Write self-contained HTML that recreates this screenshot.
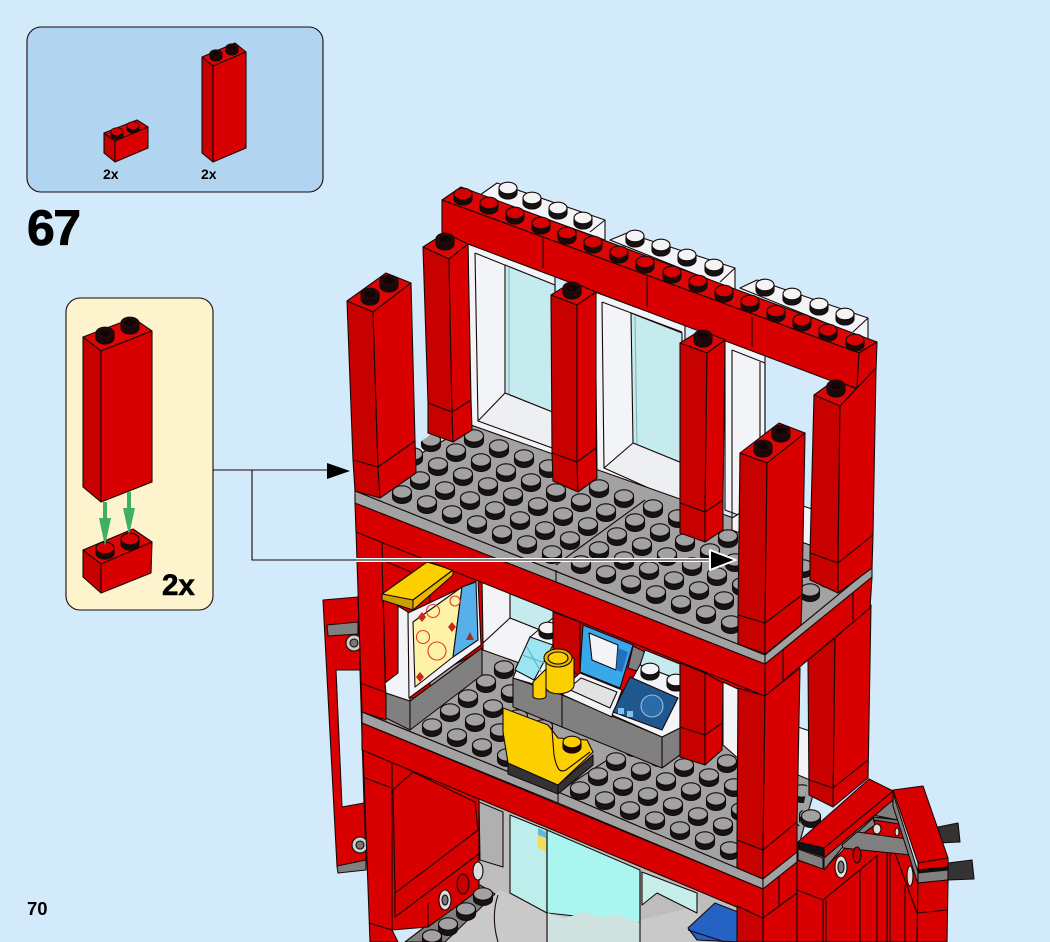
<!DOCTYPE html>
<html><head><meta charset="utf-8"><style>
html,body{margin:0;padding:0;background:#d3eafb}
svg{display:block;filter:blur(.35px)}
polygon,path,rect,ellipse,circle,line,polyline{stroke:#180808;stroke-width:1.1;stroke-linejoin:round}
.r{fill:#d80000}.d{fill:#c70000}.t{fill:#dc0606}
.w{fill:#f2f4f7}.g{fill:#a2a2a2}.k{fill:#808080}.y{fill:#fcd000}
.n{stroke:none}
text{font-family:"Liberation Sans",sans-serif;font-weight:700;fill:#000}
</style></head><body>
<svg width="1050" height="942" viewBox="0 0 1050 942" xmlns="http://www.w3.org/2000/svg">
<defs>
<g id="sg"><path d="M-9.5-2v5a9.5 6.5 0 0 0 19 0v-5z" fill="#141414"/><ellipse cx="0" cy="-2" rx="9.5" ry="6.2" fill="#a2a2a2" stroke-width="1"/></g>
<g id="sr"><path d="M-9-2v5a9 6 0 0 0 18 0v-5z" fill="#1c0808"/><ellipse cx="0" cy="-2" rx="9" ry="5.8" fill="#d80000" stroke-width="1"/></g>
<g id="sw"><path d="M-9-2v5a9 6 0 0 0 18 0v-5z" fill="#141414"/><ellipse cx="0" cy="-2" rx="9" ry="5.8" fill="#f4f4f4" stroke-width="1"/></g>
<g id="sb"><path d="M-9-2v5a9 6 0 0 0 18 0v-5z" fill="#1c0808"/><ellipse cx="0" cy="-2" rx="9" ry="5.8" fill="#2a0a0a" stroke="#7a0000" stroke-width="1"/><ellipse cx="0" cy="-2" rx="5.5" ry="3.4" fill="#120404" stroke="#300"/></g>
<g id="r4"><use href="#sg"/><use href="#sg" x="25" y="10"/><use href="#sg" x="50" y="20"/><use href="#sg" x="75" y="30"/></g>
<g id="r8"><use href="#r4"/><use href="#r4" x="100" y="40"/></g>
<clipPath id="c1"><polygon points="355,491 470,405 872,560 765,655"/></clipPath>
<clipPath id="c2"><polygon points="362,712 482,640 810,770 800,825 763,879"/></clipPath>
</defs>

<rect class="n" width="1050" height="942" fill="#d3eafb"/>

<!-- parts box -->
<rect x="27" y="27" width="296" height="165" rx="14" fill="#b1d5f1" stroke="#34495c" stroke-width="1.5"/>
<polygon class="t" points="104,133 137,120 148,127 115,141"/>
<polygon class="d" points="104,133 115,141 115,162 104,153"/>
<polygon class="r" points="115,141 148,127 148,148 115,162"/>
<g transform="translate(117,133) scale(.68)"><use href="#sr"/></g>
<g transform="translate(133,127) scale(.68)"><use href="#sr"/></g>
<polygon class="t" points="202,57 235,43 246,52 213,66"/>
<polygon class="d" points="202,57 213,66 213,162 202,153"/>
<polygon class="r" points="213,66 246,52 246,148 213,162"/>
<g transform="translate(216,55) scale(.68)"><use href="#sb"/></g>
<g transform="translate(232,49) scale(.68)"><use href="#sb"/></g>
<text x="103" y="179" font-size="14">2x</text>
<text x="201" y="179" font-size="14">2x</text>
<text x="27" y="245" font-size="50" letter-spacing="-1.5" stroke="#000" stroke-width=".8">67</text>
<text x="27" y="915" font-size="18.5">70</text>

<!-- callout -->
<rect x="66" y="298" width="147" height="312" rx="14" fill="#fdf3cd" stroke="#3c3c3c" stroke-width="1.5"/>
<polygon class="t" points="83,337 133,318 152,331 101,351"/>
<polygon class="d" points="83,337 101,351 101,502 83,487"/>
<polygon class="r" points="101,351 152,331 152,482 101,502"/>
<use href="#sb" x="105" y="335"/><use href="#sb" x="130" y="325"/>
<polygon class="t" points="83,550 133,529 152,542 101,564"/>
<polygon class="d" points="83,550 101,564 101,593 83,577"/>
<polygon class="r" points="101,564 152,542 151,573 101,593"/>
<use href="#sr" x="105" y="550"/><use href="#sr" x="130" y="541"/>
<polygon class="n" fill="#3eaf63" points="103,502 107,502 107,518 111,518 105,546 99,518 103,518"/>
<polygon class="n" fill="#3eaf63" points="127,492 131,492 131,508 135,508 129,535 123,508 127,508"/>
<text x="162" y="595" font-size="29.5" stroke="#000" stroke-width=".6">2x</text>

<!-- left door -->
<polygon class="r" points="323,600 358,597 366,860 337,866"/>
<polygon class="n" fill="#d3eafb" points="336,670 360,670 364,803 342,807"/>
<polygon fill="none" points="336,670 360,670 364,803 342,807"/>
<polygon class="k" points="327,625 358,622 358,634 328,636"/>
<polygon class="k" points="337,866 366,860 366,870 338,873"/>
<circle cx="354" cy="643" r="8" fill="#ccc"/><circle cx="354" cy="643" r="4" fill="#777"/>
<circle cx="360" cy="845" r="8" fill="#ccc"/><circle cx="360" cy="845" r="4" fill="#777"/>

<!-- ground floor interior -->
<polygon class="n" fill="#bdbdbd" points="478,795 763,905 763,942 405,942 480,878"/>
<polygon fill="#b0b0b0" points="479,802 503,812 503,867 480,860"/>
<polygon class="n" fill="#c9c9c9" points="500,890 545,910 640,920 700,905 700,942 440,942"/>
<path fill="none" d="M498 895c-5 15-5 30 0 47"/>
<polygon fill="#bdeeec" points="510,815 547,830 547,913 510,893"/>
<polygon fill="#aaf5ef" points="547,830 640,870 640,923 547,913"/>
<polygon class="n" fill="#cfe2e0" points="548,913 565,918 585,912 600,918 620,915 640,923 640,942 548,942"/>
<line x1="547" y1="830" x2="547" y2="942"/><line x1="640" y1="870" x2="640" y2="942"/>
<polygon class="n" fill="#f3dc5a" points="538,835 546,838 546,852 538,848"/>
<polygon class="n" fill="#5cb8e0" points="538,828 546,832 546,838 538,835"/>
<polygon fill="#c7efe9" points="642,872 697,893 697,913 657,893 642,905"/>
<polygon fill="#2462c4" points="715,903 738,912 738,942 697,940 688,928"/>
<line x1="688" y1="930" x2="725" y2="942"/>
<!-- ground red wall -->
<polygon class="k" points="405,942 480,885 495,894 445,942"/>
<polygon class="r" points="392,760 479,796 479,890 428,927 392,930"/>
<polygon class="r" points="393,790 413,772 475,802 478,830 395,893"/>
<polyline fill="none" points="395,893 395,917 480,853"/>
<line x1="428" y1="903" x2="428" y2="927"/>
<use href="#sg" x="483" y="896"/><use href="#sg" x="466" y="911"/><use href="#sg" x="448" y="926"/><use href="#sg" x="432" y="938"/>
<ellipse cx="445" cy="900" rx="6" ry="10" fill="#ddd"/><ellipse cx="445" cy="900" rx="3" ry="5" fill="#777"/>
<ellipse cx="463" cy="884" rx="6" ry="10" fill="#c40000"/>
<ellipse cx="478" cy="871" rx="5" ry="9" fill="#ddd"/>
<polygon class="r" points="362,723 392,735 392,930 398,942 370,942"/>
<polyline fill="none" points="365,778 392,788"/>
<polyline fill="none" points="369,923 392,930"/>

<!-- middle floor back -->
<polygon class="r" points="356,530 765,696 765,700 482,700 382,700"/>
<polygon class="w" points="482,578 510,590 510,620 483,643"/>
<polygon fill="#c5ebee" points="510,592 555,612 555,636 510,618"/>
<polygon class="w" points="483,643 510,618 555,636 520,672 483,652"/>
<!-- floor 1 plate -->
<polygon class="g" points="362,712 483,650 820,770 797,852 763,879 558,792"/>
<line x1="558" y1="792" x2="615" y2="755"/>
<g clip-path="url(#c2)">
<use href="#r4" x="504" y="669"/><use href="#r4" x="486" y="683"/><use href="#r4" x="468" y="698"/><use href="#r4" x="450" y="712"/><use href="#r4" x="432" y="727"/>
<use href="#r8" x="652" y="733"/><use href="#r8" x="634" y="747"/><use href="#r8" x="616" y="761"/><use href="#r8" x="598" y="776"/><use href="#r8" x="580" y="790"/>
</g>
<polygon class="g" points="362,712 558,792 763,879 763,889 558,803 362,723"/>
<line x1="558" y1="792" x2="558" y2="803"/>

<!-- left post & poster -->
<polygon class="r" points="356,530 382,540 386,720 362,712"/>
<line x1="360" y1="683" x2="385" y2="692"/>
<polygon class="r" points="382,560 430,580 430,700 386,695"/>
<polygon class="k" points="386,693 410,701 410,730 386,718"/>
<polygon class="k" points="410,701 482,648 482,675 410,730"/>
<polygon class="w" points="385,683 398,673 398,606 408,612 410,701 386,693"/>
<polygon class="w" points="408,613 478,580 481,645 409,698"/>
<polygon fill="#fdf2a6" points="413,622 462,587 453,657 415,687"/>
<polygon fill="#56b0ea" points="462,587 476,582 478,640 453,657"/>
<g fill="none">
<circle cx="433" cy="611" r="6.5" style="stroke:#e23a2a"/>
<circle cx="423" cy="637" r="6.5" style="stroke:#e23a2a"/>
<circle cx="437" cy="651" r="9" style="stroke:#e23a2a"/>
<circle cx="455" cy="601" r="5" style="stroke:#e23a2a"/>
</g>
<polygon class="n" fill="#c82a1a" points="422,612 426,617 422,622 418,617"/>
<polygon class="n" fill="#c82a1a" points="452,622 456,627 452,632 448,627"/>
<polygon class="n" fill="#c82a1a" points="420,672 424,677 420,682 416,677"/>
<polygon class="n" fill="#a03030" points="470,632 474,640 466,640"/>
<polygon class="y" points="382,594 427,562 453,570 413,600"/>
<polygon fill="#c9a000" points="382,594 413,600 413,610 382,600"/>
<polygon fill="#e8b800" points="413,600 453,570 453,575 413,610"/>

<!-- counter -->
<polygon class="k" points="513,678 562,695 662,737 680,728 680,755 662,768 562,727 513,707"/>
<line x1="562" y1="695" x2="562" y2="727"/><line x1="662" y1="737" x2="662" y2="768"/>
<polygon class="w" points="513,678 530,637 553,618 553,690"/>
<use href="#sw" x="548" y="630"/>
<polygon fill="#9be4f0" points="515,670 530,637 553,645 534,680"/>
<polyline fill="none" style="stroke:#4fb8cc" points="522,655 545,663"/><polyline fill="none" style="stroke:#4fb8cc" points="527,647 541,672"/>
<polygon class="d" points="553,612 580,622 580,675 553,665"/>
<!-- laptop -->
<polygon class="k" points="633,646 645,652 640,672 628,668"/>
<polygon fill="#c5ebee" points="645,650 680,664 680,680 640,665"/>
<polygon fill="#38a8e8" points="583,625 633,645 620,688 580,672"/>
<polygon class="w" points="589,633 618,645 616,670 592,660"/>
<polygon fill="#2270c0" class="n" points="618,648 628,652 622,672 616,670"/>
<polygon class="w" points="563,688 580,673 622,690 612,717 563,695"/>
<polygon fill="#e2e2e2" points="568,689 581,678 617,692 610,708"/>
<!-- radar -->
<polygon class="w" points="640,665 680,680 680,728 662,737 612,715"/>
<use href="#sw" x="650" y="671"/><use href="#sw" x="676" y="682"/>
<polygon fill="#1f578f" points="613,712 630,677 678,698 662,730"/>
<circle cx="652" cy="706" r="11" fill="#2a6ca8" style="stroke:#9bd"/>
<rect x="618" y="708" width="6" height="6" fill="#7cc4ee" class="n"/><rect x="627" y="711" width="6" height="6" fill="#7cc4ee" class="n"/>
<!-- mug -->
<path class="y" d="M533 696v-14l14-14 7 8-8 8v12c0 4-13 4-13 0z"/>
<path class="y" d="M546 658v30c2 8 25 8 28-2v-28z"/>
<ellipse cx="558" cy="658" rx="14" ry="9" fill="#e8b800"/><ellipse cx="558" cy="658" rx="10" ry="6" fill="#fcd000"/>
<!-- chair -->
<polygon fill="#333" points="508,763 558,785 558,794 508,774"/>
<polygon fill="#333" points="558,785 593,755 593,765 558,794"/>
<polygon class="y" points="503,708 548,725 558,738 587,740 593,752 558,785 508,763 503,732"/>
<path fill="none" d="M552 730l2 25c3 15 6 18 12 15l24-18"/>
<path d="M563 742v5a9 6 0 0 0 18 0v-5z" fill="#1c0808"/>
<ellipse cx="572" cy="742" rx="9" ry="5.8" fill="#fcd000"/>

<!-- column I -->
<polygon class="w" points="723,682 740,690 740,760 723,745"/>
<polygon class="d" points="680,663 705,673 705,765 680,757"/>
<polygon class="r" points="705,673 723,683 722,750 705,765"/>
<polyline fill="none" points="680,727 705,735 722,723"/>
<!-- column H area -->
<polygon class="w" points="798,727 810,731 810,780 798,775"/>
<use href="#sg" x="811" y="818"/>
<polygon class="d" points="808,660 835,638 833,807 809,795"/>
<polygon class="r" points="835,638 871,605 868,778 833,807"/>
<polyline fill="none" points="809,780 833,788 868,760"/>

<!-- floor 2 beam -->
<polygon class="r" points="355,503 765,664 765,696 356,532"/>
<polygon class="r" points="765,664 872,577 870,608 765,696"/>
<line x1="783" y1="650" x2="783" y2="680"/><line x1="853" y1="593" x2="853" y2="620"/>
<!-- column G -->
<polygon class="d" points="738,688 765,696 763,850 737,840"/>
<polygon class="r" points="765,696 800,668 797,822 763,850"/>
<polygon class="d" points="737,840 763,850 763,879 737,868"/>
<polygon class="r" points="763,850 797,822 797,852 763,879"/>
<!-- floor 1 beam -->
<polygon class="r" points="362,723 763,889 763,918 362,750"/>
<polygon class="g" points="763,879 797,852 797,862 763,889"/>
<polygon class="r" points="763,889 797,862 797,893 763,918"/>
<line x1="779" y1="877" x2="779" y2="905"/>
<polygon class="r" points="763,918 797,893 797,942 763,942"/>
<polygon class="d" points="737,906 763,918 763,942 737,942"/>

<!-- right lower structure -->
<polygon fill="#333" points="938,827 958,823 960,842 938,843"/>
<polygon fill="#333" points="948,863 972,860 974,879 948,880"/>
<polygon class="r" points="797,860 824,869 893,800 918,880 917,942 797,942"/>
<polyline fill="none" points="797,890 823,900 823,942"/>
<polyline fill="none" points="823,900 878,855"/>
<line x1="826" y1="900" x2="826" y2="942"/><line x1="860" y1="870" x2="860" y2="942"/><line x1="877" y1="856" x2="877" y2="942" stroke-width="1.8"/><line x1="887" y1="852" x2="887" y2="942"/><line x1="890" y1="852" x2="890" y2="942"/><line x1="905" y1="885" x2="905" y2="942"/>
<polyline fill="none" points="895,853 917,913"/>
<polygon class="k" points="824,858 893,799 893,806 842,848 824,870"/>
<polygon class="k" points="873,815 892,800 898,820"/>
<polygon fill="#707070" points="873,817 898,820 899,824 874,820"/>
<polygon class="k" points="858,832 873,818 875,825 864,833"/>
<polygon class="k" points="842,845 857,832 907,839 911,855 843,848"/>
<ellipse cx="841" cy="867" rx="6" ry="11" fill="#ddd"/><ellipse cx="841" cy="867" rx="3" ry="6" fill="#777"/>
<ellipse cx="857" cy="855" rx="4" ry="8" fill="#c40000"/>
<ellipse cx="877" cy="829" rx="4" ry="5" fill="#ddd"/>
<ellipse cx="897" cy="832" rx="2" ry="4" fill="#ddd"/>
<ellipse cx="910" cy="876" rx="3" ry="10" fill="#ddd"/>
<polygon class="k" points="893,793 918,872 918,884 893,806"/>
<polygon class="r" points="824,848 893,791 893,800 824,858"/>
<polygon class="r" points="798,842 869,779 893,791 824,848"/>
<polygon fill="#111" points="798,842 824,848 824,857 798,848"/>
<polygon class="k" points="798,849 823,858 823,869 798,860"/>
<polygon class="r" points="893,790 923,786 948,858 918,863"/>
<polygon class="r" points="918,863 948,858 948,867 918,870"/>
<polygon fill="#111" points="918,870 948,867 948,870 918,873"/>
<polygon class="k" points="918,873 948,870 948,880 918,883"/>
<polygon class="r" points="918,883 948,880 947,942 917,942"/>
<line x1="917" y1="913" x2="947" y2="910"/>

<!-- upper storey: white bricks -->
<polygon class="w" points="497,183 605,220 605,240 480,195"/>
<line x1="590" y1="232" x2="605" y2="220"/>
<polygon class="w" points="627,233 735,268 735,290 610,240"/>
<line x1="720" y1="282" x2="735" y2="268"/>
<polygon class="w" points="757,280 868,318 868,340 740,288"/>
<line x1="853" y1="332" x2="868" y2="318"/>
<use href="#sw" x="508" y="190"/><use href="#sw" x="532" y="200"/><use href="#sw" x="558" y="210"/><use href="#sw" x="583" y="220"/>
<use href="#sw" x="635" y="238"/><use href="#sw" x="661" y="247"/><use href="#sw" x="687" y="257"/><use href="#sw" x="714" y="267"/>
<use href="#sw" x="765" y="287"/><use href="#sw" x="792" y="296"/><use href="#sw" x="819" y="306"/><use href="#sw" x="845" y="316"/>

<!-- windows -->
<polygon class="w" points="468,244 555,275 555,470 470,432"/>
<polyline fill="none" points="475,253 552,284"/>
<line x1="475" y1="253" x2="478" y2="421"/>
<polygon fill="#c5ebee" points="505,265 555,285 555,413 505,393"/>
<line x1="509" y1="268" x2="509" y2="396" style="stroke:#7fb6ba"/>
<polygon fill="#eeeff3" points="478,421 505,393 555,413 555,449"/>
<polygon class="w" points="595,292 685,325 685,505 597,470"/>
<polyline fill="none" points="602,302 682,332"/>
<line x1="602" y1="302" x2="604" y2="468"/>
<polygon fill="#c5ebee" points="631,313 682,333 682,463 633,443"/>
<line x1="635" y1="316" x2="637" y2="446" style="stroke:#7fb6ba"/>
<polygon fill="#eeeff3" points="604,468 633,443 682,463 682,503"/>
<polygon class="w" points="725,340 765,355 765,525 725,510"/>
<polyline fill="none" points="732,350 765,363"/>
<line x1="732" y1="350" x2="732" y2="518"/>
<line x1="760" y1="362" x2="760" y2="530"/><line x1="765" y1="363" x2="765" y2="530"/>
<polygon class="w" points="800,505 815,510 815,560 800,555"/>

<!-- floor 2 plate -->
<polygon class="g" points="355,491 471,425 872,567 765,655"/>
<polygon class="w" points="732,518 745,510 745,535 732,530"/>
<g clip-path="url(#c1)">
<use href="#r4" x="449" y="428"/><use href="#r4" x="549" y="468"/>
<use href="#r4" x="431" y="442"/><use href="#r4" x="531" y="482"/>
<use href="#r4" x="413" y="456"/><use href="#r4" x="513" y="496"/>
<use href="#r4" x="395" y="470"/><use href="#r4" x="495" y="510"/>
<use href="#r4" x="377" y="484"/><use href="#r4" x="477" y="524"/>
<use href="#r8" x="653" y="508"/><use href="#r8" x="635" y="522"/><use href="#r8" x="617" y="536"/><use href="#r8" x="599" y="550"/><use href="#r8" x="581" y="564"/>
</g>
<polyline fill="none" points="645,500 556,565"/>
<polygon class="g" points="355,491 765,655 765,664 355,503"/>
<polygon class="g" points="765,655 872,567 872,577 765,664"/>
<line x1="556" y1="570" x2="556" y2="582"/>

<!-- beam -->
<polygon class="t" points="442,200 461,187 877,342 859,353"/>
<polygon class="r" points="442,200 859,353 857,388 829,380 468,244 442,236"/>
<polygon class="r" points="859,353 877,342 876,370 857,388"/>
<line x1="543" y1="238" x2="543" y2="268"/><line x1="647" y1="277" x2="647" y2="308"/><line x1="752" y1="317" x2="752" y2="347"/>
<use href="#sr" x="463" y="196"/><use href="#sr" x="489" y="205"/><use href="#sr" x="515" y="215"/><use href="#sr" x="541" y="225"/><use href="#sr" x="567" y="235"/><use href="#sr" x="593" y="244"/><use href="#sr" x="619" y="254"/><use href="#sr" x="645" y="264"/><use href="#sr" x="672" y="274"/><use href="#sr" x="698" y="283"/><use href="#sr" x="724" y="293"/><use href="#sr" x="750" y="303"/><use href="#sr" x="776" y="313"/><use href="#sr" x="802" y="322"/><use href="#sr" x="828" y="332"/><use href="#sr" x="855" y="342"/>

<!-- column B -->
<polygon class="t" points="423,247 445,233 468,244 449,259"/>
<polygon class="d" points="423,247 449,259 452,412 428,403"/>
<polygon class="r" points="449,259 468,244 471,400 452,412"/>
<polygon class="d" points="428,403 452,412 453,442 428,433"/>
<polygon class="r" points="452,412 471,400 472,430 453,442"/>
<use href="#sb" x="445" y="241"/>
<!-- column C -->
<polygon class="t" points="551,295 572,282 596,292 577,305"/>
<polygon class="d" points="551,295 577,305 577,462 552,453"/>
<polygon class="r" points="577,305 596,292 596,448 577,462"/>
<polygon class="d" points="552,453 577,462 578,492 553,481"/>
<polygon class="r" points="577,462 596,448 597,478 578,492"/>
<use href="#sb" x="572" y="290"/>
<!-- column D -->
<polygon class="t" points="680,343 701,330 725,340 707,353"/>
<polygon class="d" points="680,343 707,353 705,512 680,503"/>
<polygon class="r" points="707,353 725,340 723,500 705,512"/>
<polygon class="d" points="680,503 705,512 705,542 680,533"/>
<polygon class="r" points="705,512 723,500 723,530 705,542"/>
<use href="#sb" x="703" y="338"/>
<!-- column E -->
<polygon class="t" points="814,395 835,380 859,390 840,406"/>
<polygon class="d" points="814,395 840,406 838,563 810,553"/>
<polygon class="r" points="840,406 857,388 876,368 873,535 838,563"/>
<polygon class="d" points="810,553 838,563 838,593 810,580"/>
<polygon class="r" points="838,563 873,535 872,568 838,593"/>
<use href="#sb" x="836" y="388"/>
<!-- column A -->
<polygon class="t" points="347,301 386,273 411,283 373,312"/>
<polygon class="d" points="347,301 373,312 378,467 353,460"/>
<polygon class="r" points="373,312 411,283 415,441 378,467"/>
<polygon class="d" points="353,460 378,467 380,498 355,491"/>
<polygon class="r" points="378,467 415,441 416,473 380,498"/>
<use href="#sb" x="370" y="296"/><use href="#sb" x="389" y="283"/>
<!-- column F -->
<polygon class="t" points="740,453 779,423 805,433 767,463"/>
<polygon class="d" points="740,453 767,463 765,623 738,615"/>
<polygon class="r" points="767,463 805,433 802,595 765,623"/>
<polygon class="d" points="738,615 765,623 765,654 738,644"/>
<polygon class="r" points="765,623 802,595 801,625 765,654"/>
<use href="#sb" x="763" y="448"/><use href="#sb" x="781" y="433"/>

<!-- arrows -->
<line x1="213" y1="470" x2="330" y2="470" stroke-width="1.6"/>
<polygon class="n" fill="#000" points="327,463 350,471 327,479"/>
<polyline fill="none" points="252,470 252,560 356,560" stroke-width="1.6"/>
<line x1="356" y1="560" x2="712" y2="560" style="stroke:#fff;stroke-width:4"/>
<line x1="252" y1="560" x2="712" y2="560" stroke-width="1.6"/>
<polygon fill="#000" style="stroke:#fff;stroke-width:2" points="710,550 736,560 710,570"/>
</svg>
</body></html>
